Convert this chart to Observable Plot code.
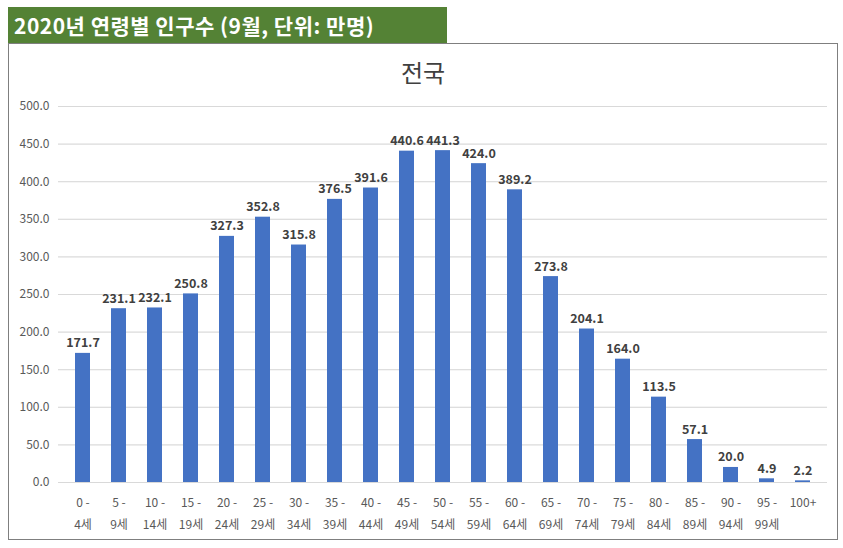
<!DOCTYPE html>
<html><head><meta charset="utf-8">
<script src="https://cdn.jsdelivr.net/npm/d3@7"></script>
<script src="https://cdn.jsdelivr.net/npm/@observablehq/plot@0.6"></script>
<style>
body{margin:0;background:#fff;font-family:"Noto Sans CJK KR","Noto Sans",sans-serif;}
#banner{position:absolute;left:8px;top:7px;width:439px;height:36px;background:#548235;color:#fff;font-weight:bold;font-size:21px;line-height:36px;padding-left:6px;box-sizing:border-box;letter-spacing:0.5px;}
#box{position:absolute;left:8px;top:43px;width:830px;height:497px;border:1px solid #7f7f7f;box-sizing:border-box;}
#title{position:absolute;left:0;width:100%;top:10px;text-align:center;font-size:24px;color:#404040;}
#chart{position:absolute;left:0;top:0;}
</style></head><body>
<div id="banner">2020년 연령별 인구수 (9월, 단위: 만명)</div>
<div id="box"><div id="chart"></div><div id="title">전국</div></div>
<script>
const ages = ["0 -\n4세","5 -\n9세","10 -\n14세","15 -\n19세","20 -\n24세","25 -\n29세","30 -\n34세","35 -\n39세","40 -\n44세","45 -\n49세","50 -\n54세","55 -\n59세","60 -\n64세","65 -\n69세","70 -\n74세","75 -\n79세","80 -\n84세","85 -\n89세","90 -\n94세","95 -\n99세","100+"];
const values = [171.7,231.1,232.1,250.8,327.3,352.8,315.8,376.5,391.6,440.6,441.3,424.0,389.2,273.8,204.1,164.0,113.5,57.1,20.0,4.9,2.2];
const yTicks = [0,50,100,150,200,250,300,350,400,450,500];
const data = ages.map((a,i)=>({age:a,value:values[i]}));
const chart = Plot.plot({
  width:828, height:495,
  marginTop:62, marginBottom:57, marginLeft:49, marginRight:10,
  style:{fontFamily:"'Noto Sans CJK KR','Noto Sans',sans-serif",fontSize:"12px",color:"#595959",background:"transparent"},
  x:{domain:ages, paddingInner:0.58, paddingOuter:0.29, label:null, tickSize:0},
  y:{domain:[0,500], ticks:yTicks, label:null, tickFormat:d=>d.toFixed(1), tickSize:0, grid:true},
  marks:[
    Plot.gridY(yTicks,{stroke:"#d9d9d9",strokeOpacity:1}),
    Plot.ruleY([0],{stroke:"#d9d9d9"}),
    Plot.barY(data,{x:"age",y:"value",fill:"#4472C4"}),
    Plot.text(data,{x:"age",y:"value",text:d=>d.value.toFixed(1),dy:-10,fontWeight:"bold",fill:"#404040",fontSize:12.5}),
    Plot.axisX({tickSize:0,tickPadding:8,lineHeight:1.9,fontSize:12})
  ]
});
document.getElementById("chart").appendChild(chart);
</script>
</body></html>
